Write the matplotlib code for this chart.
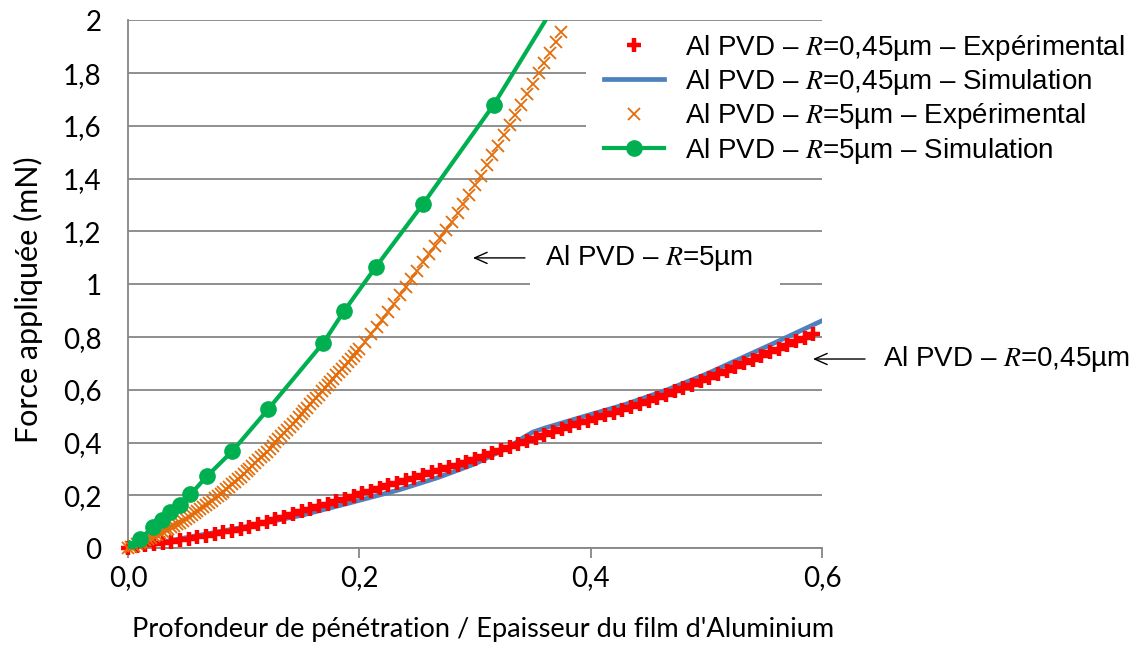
import matplotlib.pyplot as plt
from matplotlib.patches import Rectangle

# Al PVD - R=5um - experimental
x5_exp = [0.0000, 0.0025, 0.0050, 0.0075, 0.0100, 0.0125, 0.0150, 0.0175, 0.0200, 0.0225,
          0.0250, 0.0275, 0.0300, 0.0325, 0.0350, 0.0375, 0.0400, 0.0425, 0.0450, 0.0475,
          0.0500, 0.0525, 0.0550, 0.0575, 0.0600, 0.0625, 0.0650, 0.0675, 0.0700, 0.0725,
          0.0750, 0.0775, 0.0800, 0.0825, 0.0850, 0.0875, 0.0900, 0.0925, 0.0950, 0.0975,
          0.1000, 0.1025, 0.1050, 0.1075, 0.1100, 0.1125, 0.1150, 0.1175, 0.1200, 0.1225,
          0.1250, 0.1275, 0.1300, 0.1325, 0.1350, 0.1375, 0.1400, 0.1425, 0.1450, 0.1475,
          0.1500, 0.1525, 0.1550, 0.1575, 0.1600, 0.1625, 0.1650, 0.1675, 0.1700, 0.1725,
          0.1750, 0.1775, 0.1800, 0.1825, 0.1850, 0.1875, 0.1900, 0.1925, 0.1950, 0.1975,
          0.2000, 0.2050, 0.2100, 0.2150, 0.2200, 0.2250, 0.2300, 0.2350, 0.2400, 0.2450,
          0.2500, 0.2550, 0.2600, 0.2650, 0.2700, 0.2750, 0.2800, 0.2850, 0.2900, 0.2950,
          0.3000, 0.3050, 0.3100, 0.3150, 0.3200, 0.3250, 0.3300, 0.3350, 0.3400, 0.3450,
          0.3500, 0.3550, 0.3600, 0.3650, 0.3700, 0.3740]
y5_exp = [0.000, 0.005, 0.010, 0.015, 0.020, 0.025, 0.030, 0.035, 0.040, 0.046,
          0.051, 0.057, 0.062, 0.068, 0.074, 0.079, 0.085, 0.091, 0.097, 0.104,
          0.110, 0.117, 0.125, 0.132, 0.140, 0.148, 0.156, 0.164, 0.172, 0.180,
          0.189, 0.197, 0.205, 0.214, 0.223, 0.233, 0.242, 0.252, 0.261, 0.271,
          0.280, 0.291, 0.301, 0.312, 0.322, 0.333, 0.344, 0.354, 0.365, 0.377,
          0.389, 0.401, 0.413, 0.424, 0.436, 0.448, 0.460, 0.472, 0.484, 0.496,
          0.508, 0.521, 0.533, 0.545, 0.557, 0.569, 0.582, 0.594, 0.606, 0.618,
          0.631, 0.643, 0.655, 0.667, 0.680, 0.692, 0.705, 0.717, 0.730, 0.742,
          0.755, 0.782, 0.810, 0.837, 0.865, 0.896, 0.927, 0.958, 0.990, 1.021,
          1.052, 1.084, 1.115, 1.145, 1.175, 1.205, 1.235, 1.270, 1.305, 1.340,
          1.375, 1.412, 1.450, 1.488, 1.525, 1.564, 1.602, 1.641, 1.680, 1.720,
          1.760, 1.800, 1.840, 1.878, 1.917, 1.957]

# Al PVD - R=5um - simulation
x5_sim = [0.000, 0.010, 0.022, 0.029, 0.036, 0.045, 0.054, 0.068, 0.090, 0.121,
          0.169, 0.187, 0.214, 0.255, 0.316, 0.375]
y5_sim = [0.000, 0.035, 0.080, 0.107, 0.136, 0.163, 0.204, 0.272, 0.367, 0.526,
          0.779, 0.900, 1.064, 1.304, 1.679, 2.100]

# Al PVD - R=0,45um - experimental
x045_exp = [0.0000, 0.0075, 0.0150, 0.0225, 0.0300, 0.0375, 0.0450, 0.0525, 0.0600, 0.0675,
            0.0750, 0.0825, 0.0900, 0.0975, 0.1050, 0.1125, 0.1200, 0.1275, 0.1350, 0.1425,
            0.1500, 0.1575, 0.1650, 0.1725, 0.1800, 0.1875, 0.1950, 0.2025, 0.2100, 0.2175,
            0.2250, 0.2325, 0.2400, 0.2475, 0.2550, 0.2625, 0.2700, 0.2775, 0.2850, 0.2925,
            0.3000, 0.3075, 0.3150, 0.3225, 0.3300, 0.3375, 0.3450, 0.3525, 0.3600, 0.3675,
            0.3750, 0.3825, 0.3900, 0.3975, 0.4050, 0.4125, 0.4200, 0.4275, 0.4350, 0.4425,
            0.4500, 0.4575, 0.4650, 0.4725, 0.4800, 0.4875, 0.4950, 0.5025, 0.5100, 0.5175,
            0.5250, 0.5325, 0.5400, 0.5475, 0.5550, 0.5625, 0.5700, 0.5775, 0.5850, 0.5925]
y045_exp = [0.000, 0.007, 0.012, 0.016, 0.020, 0.025, 0.030, 0.036, 0.042, 0.048,
            0.054, 0.060, 0.066, 0.074, 0.082, 0.091, 0.100, 0.110, 0.120, 0.130,
            0.140, 0.149, 0.159, 0.168, 0.178, 0.188, 0.198, 0.208, 0.218, 0.228,
            0.239, 0.249, 0.258, 0.268, 0.278, 0.288, 0.297, 0.307, 0.317, 0.328,
            0.340, 0.351, 0.362, 0.374, 0.385, 0.396, 0.408, 0.419, 0.430, 0.441,
            0.452, 0.464, 0.474, 0.484, 0.494, 0.504, 0.514, 0.524, 0.534, 0.545,
            0.557, 0.569, 0.581, 0.594, 0.606, 0.619, 0.632, 0.645, 0.659, 0.673,
            0.688, 0.701, 0.715, 0.729, 0.742, 0.756, 0.770, 0.784, 0.798, 0.812]

# Al PVD - R=0,45um - simulation
x045_sim = [0.000, 0.020, 0.050, 0.100, 0.150, 0.190, 0.234, 0.268, 0.300, 0.330,
            0.342, 0.350, 0.360, 0.393, 0.430, 0.466, 0.500, 0.524, 0.560, 0.600]
y045_sim = [0.000, 0.015, 0.040, 0.080, 0.125, 0.170, 0.221, 0.268, 0.320, 0.385,
            0.420, 0.440, 0.455, 0.498, 0.545, 0.600, 0.660, 0.708, 0.780, 0.862]

yticks = [0, 0.2, 0.4, 0.6, 0.8, 1, 1.2, 1.4, 1.6, 1.8, 2]
ylabels = ['0', '0,2', '0,4', '0,6', '0,8', '1', '1,2', '1,4', '1,6', '1,8', '2']
xticks = [0, 0.2, 0.4, 0.6]
xlabels = ['0,0', '0,2', '0,4', '0,6']

plt.rcParams['font.family'] = ['Liberation Sans', 'DejaVu Sans']
plt.rcParams['mathtext.fontset'] = 'stix'

W, H = 1136, 645
fig = plt.figure(figsize=(W / 100, H / 100), dpi=100)
ax = fig.add_axes([128 / W, 1 - 548.3 / H, 694 / W, 528 / H])

grey = '#868686'
ax.plot(x045_exp, y045_exp, ls='none', marker='+', ms=9.5, mew=3.2, color='#FF0000',
        clip_on=False, zorder=4, label='Al PVD – $R$=0,45µm – Expérimental')
ax.plot(x045_sim, y045_sim, color='#4F81BD', lw=3.4, zorder=3,
        label='Al PVD – $R$=0,45µm – Simulation')
ax.plot(x5_exp, y5_exp, ls='none', marker='x', ms=9, mew=1.3, color='#E46C0A',
        clip_on=False, zorder=5, label='Al PVD – $R$=5µm – Expérimental')
ax.plot(x5_sim, y5_sim, color='#00B050', lw=3, marker='o', ms=11, zorder=6,
        label='Al PVD – $R$=5µm – Simulation')

ax.set_xlim(0, 0.6)
ax.set_ylim(0, 2)
ax.set_xticks(xticks)
ax.set_xticklabels(xlabels, family='Lato', fontsize=20)
ax.set_yticks(yticks)
ax.set_yticklabels(ylabels, family='Lato', fontsize=20)
ax.yaxis.grid(True, color=grey, lw=1.3)
ax.set_axisbelow(True)
for s in ['top', 'right']:
    ax.spines[s].set_visible(False)
for s in ['left', 'bottom']:
    ax.spines[s].set_color(grey)
    ax.spines[s].set_linewidth(1.3)
ax.tick_params(axis='y', length=0, pad=19)
ax.tick_params(axis='x', length=7, width=1.3, color=grey, pad=5, direction='out')

# white box behind the R=5um label
ax.add_patch(Rectangle((0.579, 0.497), 0.36, 0.087, transform=ax.transAxes,
                       facecolor='white', edgecolor='none', zorder=2))
arrow_style = dict(arrowstyle='->,head_length=0.9,head_width=0.4', lw=1, color='black')
ax.annotate('', xy=(0.493, 0.55), xytext=(0.576, 0.55), xycoords='axes fraction',
            arrowprops=arrow_style)
ax.text(0.601, 0.55, 'Al PVD – $R$=5µm', transform=ax.transAxes, fontsize=20,
        va='center', ha='left', zorder=7)

ax.annotate('', xy=(0.983, 0.3585), xytext=(1.066, 0.3585), xycoords='axes fraction',
            annotation_clip=False, arrowprops=arrow_style)
ax.text(1.088, 0.3585, 'Al PVD – $R$=0,45µm', transform=ax.transAxes, fontsize=20,
        va='center', ha='left', clip_on=False)

# white area behind the legend (hides grid lines)
ax.add_patch(Rectangle((586 / W, 1 - 170 / H), 550 / W, 145 / H,
                       transform=fig.transFigure, facecolor='white',
                       edgecolor='none', clip_on=False, zorder=7))
leg = ax.legend(loc='upper left', bbox_to_anchor=(604 / W, 1 - 33 / H),
                bbox_transform=fig.transFigure, fontsize=20, frameon=False,
                handlelength=2.16, handletextpad=0.75, labelspacing=0.15,
                borderpad=0, borderaxespad=0)
leg.set_zorder(8)

fig.text(28 / W, 1 - 300 / H, 'Force appliquée (mN)', rotation=90, family='Lato',
         fontsize=22, ha='center', va='center')
fig.text(483 / W, 1 - 630 / H, "Profondeur de pénétration / Epaisseur du film d'Aluminium",
         family='Lato', fontsize=19.5, ha='center', va='center')

fig.savefig('out.png', dpi=100)
